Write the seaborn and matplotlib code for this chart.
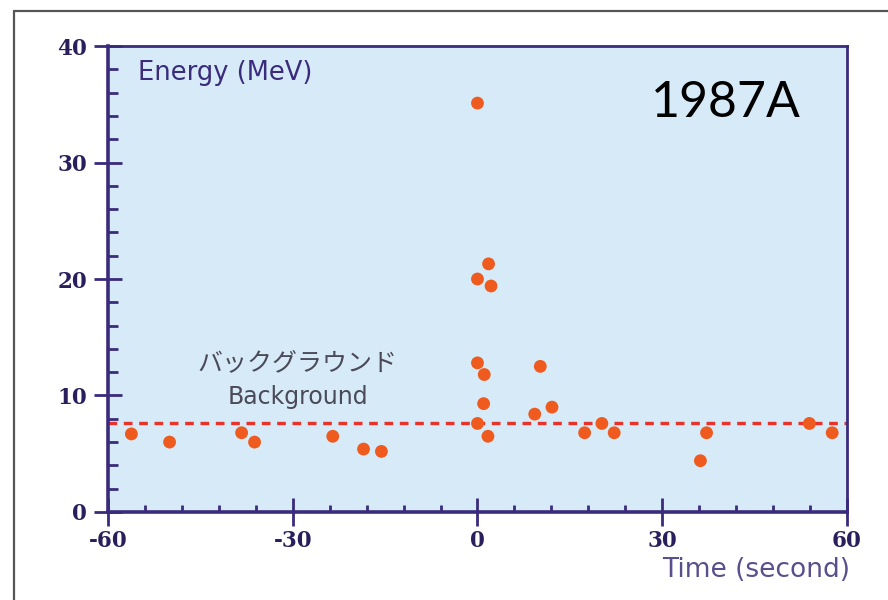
import matplotlib
matplotlib.use("Agg")
import matplotlib.pyplot as plt
from matplotlib.lines import Line2D
from matplotlib.ticker import MultipleLocator
import numpy as np
import pandas as pd
import seaborn as sns

# Neutrino events from SN 1987A: arrival time (s) and energy (MeV)
time_s = [-56.2, -50.0, -38.3, -36.2, -23.5, -18.5, -15.6,
          0.0, 0.0, 1.8, 2.2, 0.0, 1.1, 1.0, 0.0, 1.7,
          10.2, 9.3, 12.1, 17.4, 20.2, 22.2, 36.2, 37.2, 53.9, 57.6]
energy_mev = [6.7, 6.0, 6.8, 6.0, 6.5, 5.4, 5.2,
              35.1, 20.0, 21.3, 19.4, 12.8, 11.8, 9.3, 7.6, 6.5,
              12.5, 8.4, 9.0, 6.8, 7.6, 6.8, 4.4, 6.8, 7.6, 6.8]
background_level = 7.6

x_ticks = [-60, -30, 0, 30, 60]
y_ticks = [0, 10, 20, 30, 40]

events = pd.DataFrame({"time": time_s, "energy": energy_mev})

sns.set_theme(style="white")
plt.rcParams["font.family"] = ["DejaVu Sans", "Noto Sans CJK JP"]
plt.rcParams["axes.unicode_minus"] = False

purple = "#3a2b7c"
fig = plt.figure(figsize=(8.88, 6.0), dpi=100)
fig.patch.set_facecolor("white")
ax = fig.add_axes([0.1216, 0.1467, 0.8322, 0.7766])
ax.set_facecolor("#d7eaf7")

ax.axhline(background_level, color="#e8322a", lw=2.4,
           linestyle=(0, (2.6, 2.0)), zorder=2)

sns.scatterplot(data=events, x="time", y="energy", ax=ax, s=85,
                color="#ef5a1e", edgecolor="none", linewidth=0, zorder=3,
                legend=False)

ax.set_xlim(-60, 60)
ax.set_ylim(0, 40)
ax.set_xticks(x_ticks)
ax.set_yticks(y_ticks)
ax.xaxis.set_minor_locator(MultipleLocator(6))
ax.yaxis.set_minor_locator(MultipleLocator(2))
ax.set_xlabel("")
ax.set_ylabel("")

for side, lw in [("left", 2.6), ("bottom", 2.6), ("top", 2.0), ("right", 2.0)]:
    ax.spines[side].set_visible(True)
    ax.spines[side].set_color(purple)
    ax.spines[side].set_linewidth(lw)

ax.tick_params(axis="both", which="major", direction="inout", length=20,
               width=2.0, color=purple)
ax.tick_params(axis="x", which="minor", direction="in", length=5,
               width=2.0, color=purple, bottom=True)
ax.tick_params(axis="y", which="minor", direction="in", length=7,
               width=2.0, color=purple, left=True)
ax.tick_params(axis="x", which="major", pad=3, bottom=True)
ax.tick_params(axis="y", which="major", pad=5, left=True)
for lab in ax.get_xticklabels() + ax.get_yticklabels():
    lab.set_fontfamily("DejaVu Serif")
    lab.set_fontweight("bold")
    lab.set_fontsize(15.5)
    lab.set_color("#2a1f5c")

ax.text(-55.2, 37.7, "Energy (MeV)", fontsize=18.5, color=purple,
        ha="left", va="center", zorder=4)
ax.text(-29.2, 12.8, "バックグラウンド", fontsize=18, color="#4a4a58",
        family=["Noto Sans CJK JP", "DejaVu Sans"],
        ha="center", va="center", zorder=4)
ax.text(-29.2, 9.9, "Background", fontsize=17, color="#4a4a58",
        ha="center", va="center", zorder=4)
ax.text(28.1, 35.1, "1987A", fontsize=36, color="black",
        family="Lato", ha="left", va="center", zorder=4)

fig.text(850 / 888, 1 - 570 / 600, "Time (second)", fontsize=19,
         color="#5a4f8c", ha="right", va="center")

# thin frame along the top and left edges of the figure
fig.add_artist(Line2D([14 / 888, 1.0], [1 - 11 / 600, 1 - 11 / 600],
                      transform=fig.transFigure, color="#555555", lw=1.6))
fig.add_artist(Line2D([14 / 888, 14 / 888], [0.0, 1 - 11 / 600],
                      transform=fig.transFigure, color="#555555", lw=1.6))

fig.savefig("out.png", dpi=100)
